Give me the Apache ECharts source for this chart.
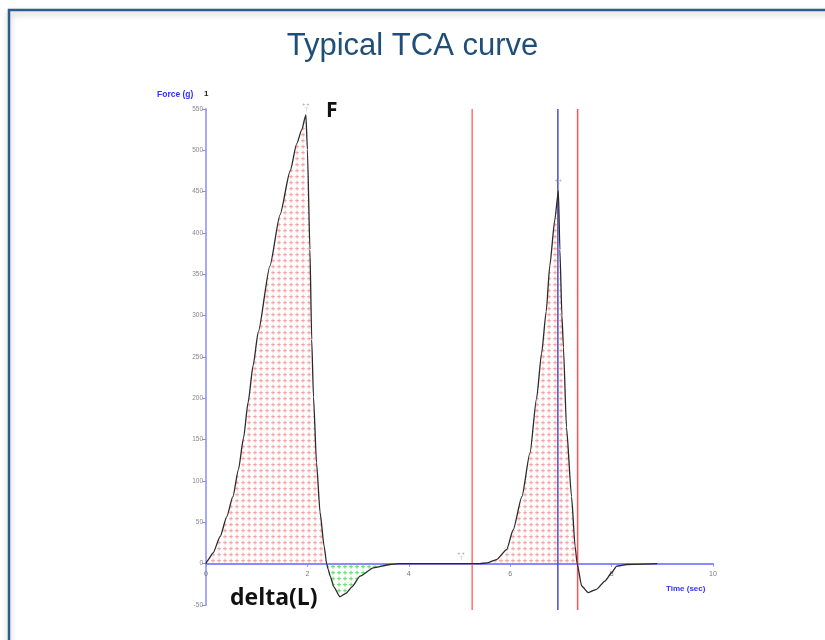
<!DOCTYPE html>
<html>
<head>
<meta charset="utf-8">
<script src="https://cdn.jsdelivr.net/npm/echarts@6/dist/echarts.min.js"></script>
<style>
  html, body { margin: 0; padding: 0; background: #ffffff; }
  #chart { width: 825px; height: 640px; }
</style>
</head>
<body>
<div id="chart"></div>
<script>
// Force–time trace of a two-bite texture profile (TCA)
const timeSec = [0, 0.03, 0.14, 0.28, 0.41, 0.53, 0.64, 0.74, 0.83, 0.93, 1.03, 1.26, 1.46, 1.66, 1.79, 1.89, 1.97,
  2.0, 2.05, 2.085, 2.12, 2.18, 2.25, 2.33, 2.38, 2.41, 2.45, 2.52, 2.64, 2.76, 2.88, 3.04, 3.3, 3.63, 3.8,
  5.4, 5.55, 5.73, 5.93, 6.06, 6.23, 6.39, 6.52, 6.62, 6.71, 6.78, 6.88, 6.95,
  6.98, 7.02, 7.05, 7.11, 7.21, 7.28, 7.32, 7.41, 7.54, 7.7, 7.87, 8.0, 8.1, 8.3, 8.9];
const forceG = [0, 4, 13, 33, 57, 81, 114, 152, 195, 240, 280, 360, 422, 475, 508, 525, 543,
  501, 380, 271, 202, 122, 62, 21, 0, -7, -15, -28, -40, -36, -28, -15, -5, -1, 0,
  0, 1, 5, 17, 41, 81, 134, 200, 255, 305, 360, 416, 451,
  380, 300, 262, 165, 81, 21, 0, -27, -35, -31, -21, -11, -3, -1, 0];

// Cursor lines: position (s) and marker number
const cursorTimes = [5.25, 6.94, 7.33];
const cursorLabels = ['4', '3', '6'];
const cursorColors = ['#ff6f6f', '#4b4bd0', '#ff5050'];

// Peak / event markers on the trace
const markerTimes = [1.97, 6.95, 5.03];
const markerForces = [543, 451, 0];

const yTicks = { min: -50, max: 550, interval: 50 };
const xTicks = { min: 0, max: 10, interval: 2 };
const firstCycleEnd = 4; // seconds; negative area of first bite shaded green

function dotPattern(color) {
  const c = document.createElement('canvas');
  c.width = 6; c.height = 6;
  const g = c.getContext('2d');
  g.fillStyle = color;
  g.fillRect(1, 2, 4, 1.3);
  g.fillRect(2.4, 0.6, 1.3, 4);
  return { image: c, repeat: 'repeat' };
}

const trace = timeSec.map((t, i) => [t, forceG[i]]);
const positive = timeSec.map((t, i) => [t, Math.max(forceG[i], 0)]);
const negativeFirst = timeSec.filter(t => t <= firstCycleEnd).map((t, i) => [t, Math.min(forceG[i], 0)]);

const smoothing = { smooth: 0.2, smoothMonotone: 'x' };

const chart = echarts.init(document.getElementById('chart'));

const cursorSeries = cursorTimes.map((t, i) => ({
  type: 'line',
  clip: false,
  silent: true,
  symbol: 'none',
  lineStyle: { color: cursorColors[i], width: 1.5 },
  z: 4,
  data: [
    [t, -56],
    { value: [t, 550], label: { show: true, formatter: cursorLabels[i], position: 'top', distance: 6,
      fontSize: 7, fontWeight: 'bold', color: '#222', fontFamily: 'Liberation Sans' } }
  ],
  label: { show: false }
}));

chart.setOption({
  animation: false,
  backgroundColor: '#ffffff',
  title: {
    text: 'Typical TCA curve',
    left: 'center',
    top: 26,
    textStyle: { fontFamily: 'Liberation Sans', fontSize: 31, fontWeight: 'normal', color: '#1f4e79' }
  },
  grid: { left: 206, right: 112, top: 109, bottom: 35 },
  xAxis: {
    type: 'value',
    min: xTicks.min, max: xTicks.max, interval: xTicks.interval,
    offset: -41.3,
    axisLine: { onZero: false, lineStyle: { color: '#8a8aff', width: 2 } },
    axisTick: { show: true, length: 3, lineStyle: { color: '#8a8aff' } },
    axisLabel: { fontSize: 7, color: '#777', margin: 7, fontFamily: 'Liberation Sans' },
    splitLine: { show: false }
  },
  yAxis: {
    type: 'value',
    min: yTicks.min, max: yTicks.max, interval: yTicks.interval,
    axisLine: { show: true, onZero: false, lineStyle: { color: '#a8a8ff', width: 2 } },
    axisTick: { show: true, length: 4, lineStyle: { color: '#8a8aff' } },
    axisLabel: { fontSize: 6.5, color: '#888', margin: 3, fontFamily: 'Liberation Sans' },
    splitLine: { show: false }
  },
  series: [
    Object.assign({
      type: 'line', data: positive, symbol: 'none', silent: true,
      lineStyle: { width: 0 },
      areaStyle: { color: dotPattern('rgba(245,135,135,0.6)'), opacity: 1 },
      z: 1
    }, smoothing),
    Object.assign({
      type: 'line', data: negativeFirst, symbol: 'none', silent: true,
      lineStyle: { width: 0 },
      areaStyle: { color: dotPattern('rgba(90,220,90,0.75)'), opacity: 1 },
      z: 1
    }, smoothing),
    Object.assign({
      type: 'line', data: trace, symbol: 'none',
      lineStyle: { color: '#2a2a2a', width: 1.3 },
      z: 5,
      markPoint: {
        symbol: 'rect', symbolSize: [1, 1],
        itemStyle: { color: 'rgba(0,0,0,0)' },
        label: { show: true, position: 'top', distance: 2, formatter: '+ +\n⊤', fontSize: 5, lineHeight: 5, color: '#999' },
        data: markerTimes.map((t, i) => ({ coord: [t, markerForces[i]] }))
      }
    }, smoothing),
    ...cursorSeries
  ],
  graphic: [
    {
      type: 'rect', z: -1,
      shape: { x: 9, y: 10, width: 840, height: 660 },
      style: { fill: 'none', stroke: '#2d5d8a', lineWidth: 2.5, shadowBlur: 6, shadowColor: 'rgba(0,0,0,0.25)', shadowOffsetY: 3 }
    },
    {
      type: 'text', left: 157, top: 90,
      style: { text: 'Force (g)', fontSize: 8.5, fontWeight: 'bold', fill: '#3030ff', fontFamily: 'Liberation Sans' }
    },
    {
      type: 'text', left: 204, top: 90,
      style: { text: '1', fontSize: 8, fontWeight: 'bold', fill: '#222', fontFamily: 'Liberation Sans' }
    },
    {
      type: 'text', left: 666, top: 585,
      style: { text: 'Time (sec)', fontSize: 8, fontWeight: 'bold', fill: '#3030ff', fontFamily: 'Liberation Sans' }
    },
    {
      type: 'text', left: 326, top: 101,
      style: { text: 'F', fontSize: 21, fontWeight: 'bold', fill: '#111', fontFamily: 'Open Sans' }
    },
    {
      type: 'text', left: 230, top: 587,
      style: { text: 'delta(L)', fontSize: 23, fontWeight: 'bold', fill: '#111', fontFamily: 'Open Sans' }
    }
  ]
});
</script>
</body>
</html>
